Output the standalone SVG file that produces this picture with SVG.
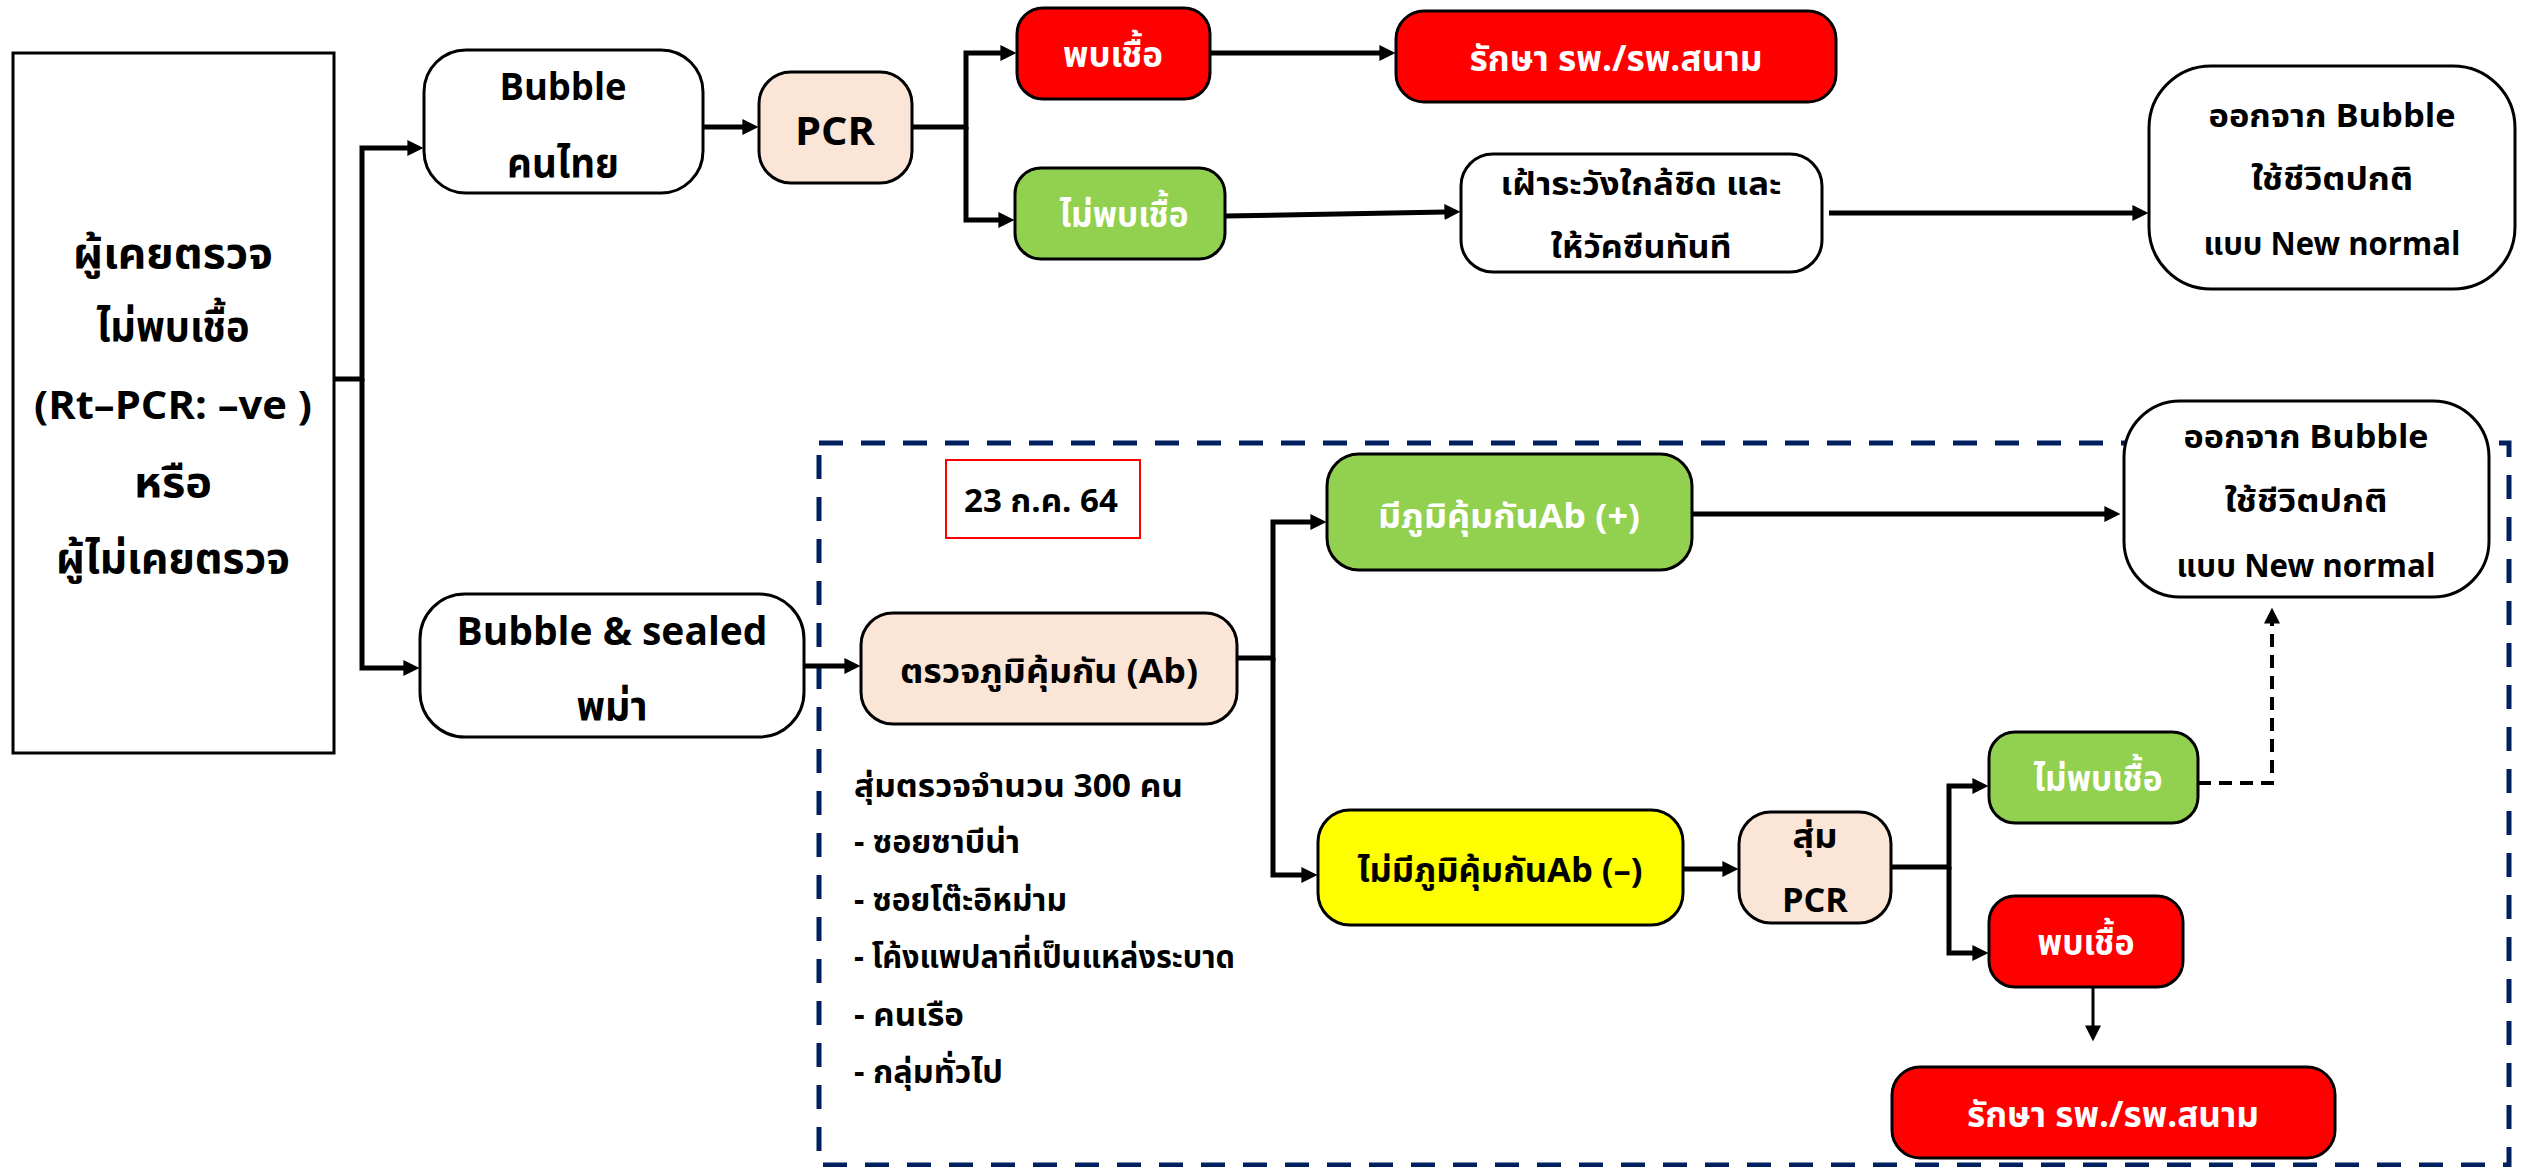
<svg xmlns="http://www.w3.org/2000/svg" width="2521" height="1167" viewBox="0 0 2521 1167">
<defs>
<marker id="ah" viewBox="0 0 10 10" refX="1" refY="5" markerWidth="16" markerHeight="16" markerUnits="userSpaceOnUse" orient="auto"><path d="M0,0 L10,5 L0,10 z" fill="#000"/></marker>
</defs>
<style>
text{font-family:"Noto Sans Thai","Noto Sans","DejaVu Sans",sans-serif;font-weight:bold;text-anchor:middle;fill:#000}
.w{fill:#fff}
.l{text-anchor:start}
.box{stroke:#000;stroke-width:3}
.white{fill:#fff}
.red{fill:#ff0000}
.green{fill:#92d050}
.peach{fill:#fbe5d6}
.yellow{fill:#ffff00}
.c{fill:none;stroke:#000;stroke-width:5}
.cd{fill:none;stroke:#000;stroke-width:4;stroke-dasharray:13 8}
.ct{fill:none;stroke:#000;stroke-width:3}
</style>
<rect id="zone" x="819" y="443" width="1690" height="722" fill="none" stroke="#002060" stroke-width="5" stroke-dasharray="24 18"/>
<g id="connectors">
<path class="c" d="M334,379 H362 V148 H409" marker-end="url(#ah)"/>
<path class="c" d="M362,379 V668 H405" marker-end="url(#ah)"/>
<path class="c" d="M703,127 H744" marker-end="url(#ah)"/>
<path class="c" d="M912,127 H966 V53 H1002" marker-end="url(#ah)"/>
<path class="c" d="M966,127 V220 H1000" marker-end="url(#ah)"/>
<path class="c" d="M1210,53 H1381" marker-end="url(#ah)"/>
<path class="c" d="M1225,216 L1446,212" marker-end="url(#ah)"/>
<path class="c" d="M1829,213 H2134" marker-end="url(#ah)"/>
<path class="c" d="M804,666 H846" marker-end="url(#ah)"/>
<path class="c" d="M1237,658 H1273 V522 H1312" marker-end="url(#ah)"/>
<path class="c" d="M1273,658 V875 H1303" marker-end="url(#ah)"/>
<path class="c" d="M1692,514 H2106" marker-end="url(#ah)"/>
<path class="c" d="M1683,869 H1724" marker-end="url(#ah)"/>
<path class="c" d="M1891,867 H1949 V786 H1974" marker-end="url(#ah)"/>
<path class="c" d="M1949,867 V953 H1974" marker-end="url(#ah)"/>
<path class="ct" d="M2093,987 V1027" marker-end="url(#ah)"/>
<path class="cd" d="M2198,783 H2272 V622" marker-end="url(#ah)"/>
</g>
<g id="n_start">
<rect class="box white" x="13" y="53" width="321" height="700"/>
<text x="173" y="268" font-size="42" textLength="200" lengthAdjust="spacingAndGlyphs">ผู้เคยตรวจ</text>
<text x="173" y="341" font-size="42" textLength="153" lengthAdjust="spacingAndGlyphs">ไม่พบเชื้อ</text>
<text x="173" y="419" font-size="40" textLength="278" lengthAdjust="spacingAndGlyphs">(Rt–PCR: –ve )</text>
<text x="173" y="497" font-size="42" textLength="78" lengthAdjust="spacingAndGlyphs">หรือ</text>
<text x="173" y="573" font-size="42" textLength="234" lengthAdjust="spacingAndGlyphs">ผู้ไม่เคยตรวจ</text>
</g>
<g id="n_bubble_thai">
<rect class="box white" x="424" y="50" width="279" height="143" rx="42"/>
<text x="563" y="100" font-size="38" textLength="127" lengthAdjust="spacingAndGlyphs">Bubble</text>
<text x="563" y="177" font-size="40" textLength="112" lengthAdjust="spacingAndGlyphs">คนไทย</text>
</g>
<g id="n_pcr1">
<rect class="box peach" x="759" y="72" width="153" height="111" rx="32"/>
<text x="835" y="145" font-size="40" textLength="80" lengthAdjust="spacingAndGlyphs">PCR</text>
</g>
<g id="n_found1">
<rect class="box red" x="1017" y="8" width="193" height="91" rx="26"/>
<text class="w" x="1113" y="67" font-size="36" textLength="100" lengthAdjust="spacingAndGlyphs">พบเชื้อ</text>
</g>
<g id="n_treat1">
<rect class="box red" x="1396" y="11" width="440" height="91" rx="28"/>
<text class="w" x="1616" y="71" font-size="36" textLength="293" lengthAdjust="spacingAndGlyphs">รักษา รพ./รพ.สนาม</text>
</g>
<g id="n_notfound1">
<rect class="box green" x="1015" y="168" width="210" height="91" rx="26"/>
<text class="w" x="1124" y="227" font-size="36" textLength="129" lengthAdjust="spacingAndGlyphs">ไม่พบเชื้อ</text>
</g>
<g id="n_watch">
<rect class="box white" x="1461" y="154" width="361" height="118" rx="32"/>
<text x="1641" y="195" font-size="32" textLength="281" lengthAdjust="spacingAndGlyphs">เฝ้าระวังใกล้ชิด และ</text>
<text x="1641" y="258" font-size="32" textLength="181" lengthAdjust="spacingAndGlyphs">ให้วัคซีนทันที</text>
</g>
<g id="n_exit1">
<rect class="box white" x="2149" y="66" width="366" height="223" rx="62"/>
<text x="2332" y="127" font-size="32" textLength="247" lengthAdjust="spacingAndGlyphs">ออกจาก Bubble</text>
<text x="2332" y="190" font-size="32" textLength="162" lengthAdjust="spacingAndGlyphs">ใช้ชีวิตปกติ</text>
<text x="2332" y="255" font-size="32" textLength="257" lengthAdjust="spacingAndGlyphs">แบบ New normal</text>
</g>
<g id="n_date">
<rect x="946" y="460" width="194" height="78" fill="#fff" stroke="#ff0000" stroke-width="2"/>
<text x="1041" y="512" font-size="32" textLength="154" lengthAdjust="spacingAndGlyphs">23 ก.ค. 64</text>
</g>
<g id="n_sealed">
<rect class="box white" x="420" y="594" width="384" height="143" rx="45"/>
<text x="612" y="645" font-size="40" textLength="311" lengthAdjust="spacingAndGlyphs">Bubble &amp; sealed</text>
<text x="612" y="720" font-size="40" textLength="71" lengthAdjust="spacingAndGlyphs">พม่า</text>
</g>
<g id="n_abtest">
<rect class="box peach" x="861" y="613" width="376" height="111" rx="32"/>
<text x="1049" y="683" font-size="34" textLength="298" lengthAdjust="spacingAndGlyphs">ตรวจภูมิคุ้มกัน (Ab)</text>
</g>
<g id="n_list">
<text class="l" x="854" y="797" font-size="32" textLength="329" lengthAdjust="spacingAndGlyphs">สุ่มตรวจจำนวน 300 คน</text>
<text class="l" x="854" y="853" font-size="32" textLength="166" lengthAdjust="spacingAndGlyphs">- ซอยซาบีน่า</text>
<text class="l" x="854" y="911" font-size="32" textLength="213" lengthAdjust="spacingAndGlyphs">- ซอยโต๊ะอิหม่าม</text>
<text class="l" x="854" y="968" font-size="32" textLength="381" lengthAdjust="spacingAndGlyphs">- โค้งแพปลาที่เป็นแหล่งระบาด</text>
<text class="l" x="854" y="1026" font-size="32" textLength="110" lengthAdjust="spacingAndGlyphs">- คนเรือ</text>
<text class="l" x="854" y="1083" font-size="32" textLength="149" lengthAdjust="spacingAndGlyphs">- กลุ่มทั่วไป</text>
</g>
<g id="n_abpos">
<rect class="box green" x="1327" y="454" width="365" height="116" rx="32"/>
<text class="w" x="1509" y="528" font-size="34" textLength="262" lengthAdjust="spacingAndGlyphs">มีภูมิคุ้มกันAb (+)</text>
</g>
<g id="n_exit2">
<rect class="box white" x="2124" y="401" width="365" height="196" rx="56"/>
<text x="2306" y="448" font-size="32" textLength="245" lengthAdjust="spacingAndGlyphs">ออกจาก Bubble</text>
<text x="2306" y="512" font-size="32" textLength="163" lengthAdjust="spacingAndGlyphs">ใช้ชีวิตปกติ</text>
<text x="2306" y="577" font-size="32" textLength="259" lengthAdjust="spacingAndGlyphs">แบบ New normal</text>
</g>
<g id="n_abneg">
<rect class="box yellow" x="1318" y="810" width="365" height="115" rx="32"/>
<text x="1500" y="882" font-size="34" textLength="285" lengthAdjust="spacingAndGlyphs">ไม่มีภูมิคุ้มกันAb (–)</text>
</g>
<g id="n_pcr2">
<rect class="box peach" x="1739" y="812" width="152" height="111" rx="32"/>
<text x="1815" y="848" font-size="34" textLength="45" lengthAdjust="spacingAndGlyphs">สุ่ม</text>
<text x="1815" y="912" font-size="34" textLength="66" lengthAdjust="spacingAndGlyphs">PCR</text>
</g>
<g id="n_notfound2">
<rect class="box green" x="1989" y="732" width="209" height="91" rx="26"/>
<text class="w" x="2098" y="791" font-size="36" textLength="129" lengthAdjust="spacingAndGlyphs">ไม่พบเชื้อ</text>
</g>
<g id="n_found2">
<rect class="box red" x="1989" y="896" width="194" height="91" rx="26"/>
<text class="w" x="2086" y="955" font-size="36" textLength="97" lengthAdjust="spacingAndGlyphs">พบเชื้อ</text>
</g>
<g id="n_treat2">
<rect class="box red" x="1892" y="1067" width="443" height="91" rx="28"/>
<text class="w" x="2113" y="1127" font-size="36" textLength="292" lengthAdjust="spacingAndGlyphs">รักษา รพ./รพ.สนาม</text>
</g>
</svg>
